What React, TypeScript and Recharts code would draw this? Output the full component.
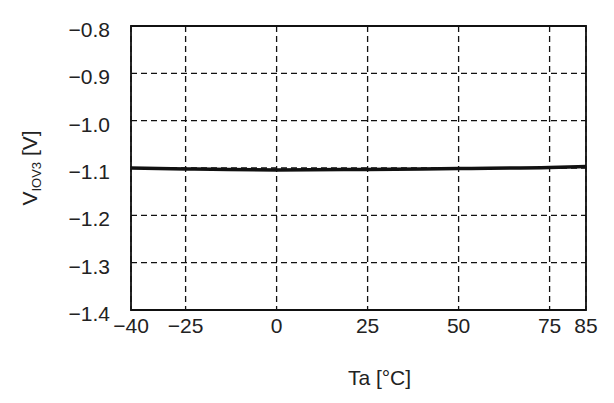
import { LineChart, Line, XAxis, YAxis, CartesianGrid, ReferenceArea } from 'recharts';

const temps = [-40, -25, 0, 25, 50, 75, 85];
const viov3 = [-1.100, -1.102, -1.104, -1.103, -1.101, -1.099, -1.097];

const xTicks = [-40, -25, 0, 25, 50, 75, 85];
const yTicks = [-1.4, -1.3, -1.2, -1.1, -1.0, -0.9, -0.8];

const data = temps.map((t, i) => ({ t, v: viov3[i] }));

const FONT = '"Liberation Sans", Arial, sans-serif';
const TEXT = '#222';

const fmt = (n: number, digits: number) => {
    const s = Math.abs(n).toFixed(digits);
    return n < 0 ? `\u2212${s}` : s;
};

// eslint-disable-next-line @typescript-eslint/no-explicit-any
const XTick = ({ x, y, payload }: any) => (
    <text x={x} y={y + 15} textAnchor="middle" fontFamily={FONT} fontSize={21} fill={TEXT}>
        {fmt(payload.value, 0)}
    </text>
);

// eslint-disable-next-line @typescript-eslint/no-explicit-any
const YTick = ({ x, y, payload }: any) => (
    <text x={x - 13} y={y + 11} textAnchor="end" fontFamily={FONT} fontSize={21} fill={TEXT}>
        {fmt(payload.value, 1)}
    </text>
);

// eslint-disable-next-line @typescript-eslint/no-explicit-any
const XTitle = ({ viewBox }: any) => (
    <text
        x={viewBox.x + viewBox.width / 2 + 21}
        y={viewBox.y + 75}
        textAnchor="middle"
        fontFamily={FONT}
        fontSize={21}
        fill={TEXT}
    >
        Ta [°C]
    </text>
);

// eslint-disable-next-line @typescript-eslint/no-explicit-any
const YTitle = ({ viewBox }: any) => {
    const cx = 37;
    const cy = viewBox.y + viewBox.height / 2;
    return (
        <text
            x={cx}
            y={cy}
            transform={`rotate(-90 ${cx} ${cy})`}
            textAnchor="middle"
            fontFamily={FONT}
            fontSize={21}
            fill={TEXT}
        >
            V<tspan fontSize={13} dy={4}>IOV3</tspan>
            <tspan dy={-4}> [V]</tspan>
        </text>
    );
};

export default function App() {
    return (
        <div style={{ position: 'absolute', left: 0, top: 0, width: 614, height: 403, background: '#fff' }}>
            <LineChart width={614} height={403} data={data} margin={{ top: 26, right: 28, left: 0, bottom: 33 }}>
                <CartesianGrid
                    stroke="#111"
                    strokeWidth={1.3}
                    strokeDasharray="6 4"
                />
                <XAxis
                    dataKey="t"
                    type="number"
                    domain={[-40, 85]}
                    ticks={xTicks}
                    interval={0}
                    axisLine={false}
                    tickLine={false}
                    height={60}
                    tick={<XTick />}
                    label={<XTitle />}
                />
                <YAxis
                    type="number"
                    domain={[-1.4, -0.8]}
                    ticks={yTicks}
                    interval={0}
                    axisLine={false}
                    tickLine={false}
                    width={131}
                    tick={<YTick />}
                    label={<YTitle />}
                />
                <ReferenceArea
                    x1={-40}
                    x2={85}
                    y1={-1.4}
                    y2={-0.8}
                    fill="none"
                    fillOpacity={0}
                    stroke="#111"
                    strokeWidth={1.8}
                    ifOverflow="visible"
                />
                <Line
                    type="monotone"
                    dataKey="v"
                    stroke="#111"
                    strokeWidth={3.5}
                    dot={false}
                    isAnimationActive={false}
                />
            </LineChart>
        </div>
    );
}
